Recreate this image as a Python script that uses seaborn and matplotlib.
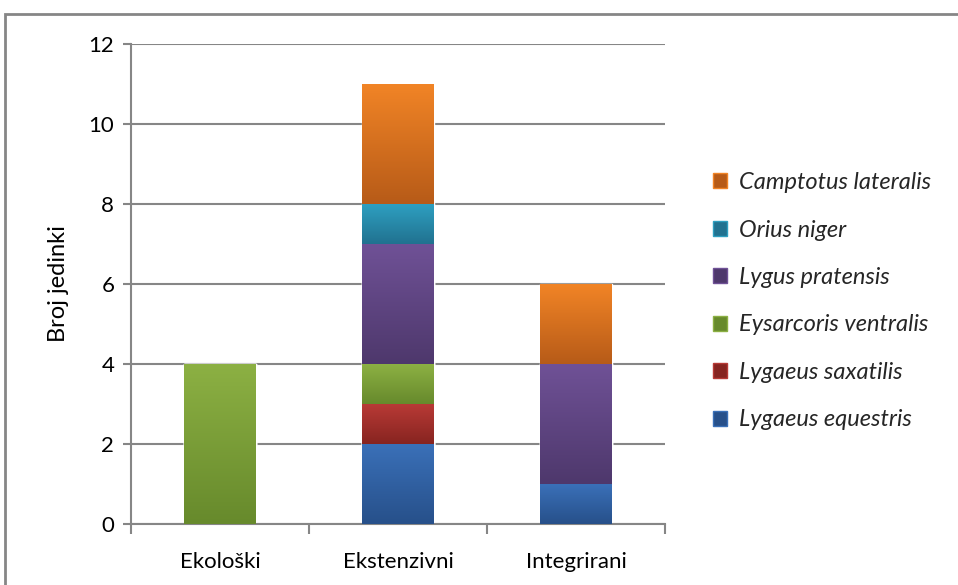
import matplotlib.pyplot as plt
import matplotlib.patches as mpatches
import numpy as np
import pandas as pd
import seaborn as sns
from matplotlib.colors import LinearSegmentedColormap

sns.set_theme(style="white")
plt.rcParams["font.family"] = ["Lato", "DejaVu Sans"]

categories = ["Ekološki", "Ekstenzivni", "Integrirani"]
species = [
    "Lygaeus equestris",
    "Lygaeus saxatilis",
    "Eysarcoris ventralis",
    "Lygus pratensis",
    "Orius niger",
    "Camptotus lateralis",
]
lygaeus_equestris = [0, 2, 1]
lygaeus_saxatilis = [0, 1, 0]
eysarcoris_ventralis = [4, 1, 0]
lygus_pratensis = [0, 3, 3]
orius_niger = [0, 1, 0]
camptotus_lateralis = [0, 3, 2]

# (top, bottom) colours of the Excel-style gradient
colors = {
    "Lygaeus equestris": ("#3a70b8", "#27508a"),
    "Lygaeus saxatilis": ("#b83a36", "#872420"),
    "Eysarcoris ventralis": ("#8cb043", "#678a2c"),
    "Lygus pratensis": ("#6f5196", "#4e386c"),
    "Orius niger": ("#2e9fc0", "#217290"),
    "Camptotus lateralis": ("#f18426", "#b75b18"),
}

values = np.array([
    lygaeus_equestris,
    lygaeus_saxatilis,
    eysarcoris_ventralis,
    lygus_pratensis,
    orius_niger,
    camptotus_lateralis,
], dtype=float)
cum = values.cumsum(axis=0)
df = pd.DataFrame(cum.T, columns=species)
df["category"] = categories

fig = plt.figure(figsize=(9.58, 5.85), dpi=100)
ax = fig.add_axes([0.1367, 0.1043, 0.5574, 0.8205])

bar_w = 0.4
# draw the stacks from the tallest cumulative layer down
for name in reversed(species):
    sns.barplot(data=df, x="category", y=name, color=colors[name][0],
                width=bar_w, ax=ax, saturation=1, zorder=2)

# gradient fill for every segment
for i, name in enumerate(species):
    cmap = LinearSegmentedColormap.from_list(name, [colors[name][1], colors[name][0]])
    grad = np.linspace(0, 1, 100).reshape(-1, 1)
    for j in range(len(categories)):
        lower = cum[i - 1, j] if i > 0 else 0
        upper = cum[i, j]
        if upper - lower <= 0:
            continue
        ax.imshow(grad, cmap=cmap, origin="lower", aspect="auto",
                  extent=(j - bar_w / 2, j + bar_w / 2, lower, upper), zorder=3)

ax.set_xlim(-0.5, 2.5)
ax.set_ylim(0, 12)
ax.set_yticks(range(0, 13, 2))
ax.set_xticks(range(3))
ax.set_xticklabels(categories)
ax.set_xticks([-0.5, 0.5, 1.5, 2.5], minor=True)

grid_c = "#868686"
ax.yaxis.grid(True, color=grid_c, linewidth=1.5, zorder=1)
ax.set_axisbelow(True)
for s in ["top", "right"]:
    ax.spines[s].set_visible(False)
for s in ["left", "bottom"]:
    ax.spines[s].set_color(grid_c)
    ax.spines[s].set_linewidth(1.5)

ax.tick_params(axis="y", which="major", left=True, length=6, width=1.5,
               color=grid_c, labelsize=16, pad=6, labelcolor="#000000")
ax.tick_params(axis="x", which="major", bottom=False, labelsize=16, pad=14,
               labelcolor="#000000")
ax.tick_params(axis="x", which="minor", bottom=True, length=7, width=1.5,
               color=grid_c)

ax.set_xlabel("")
ax.set_ylabel("Broj jedinki", fontsize=17, color="#000000", labelpad=14)

handles = [mpatches.Patch(facecolor=colors[n][1], edgecolor=colors[n][0])
           for n in reversed(species)]
fig.legend(handles, list(reversed(species)), loc="center left",
           bbox_to_anchor=(0.722, 0.485), frameon=False,
           prop={"style": "italic", "size": 17},
           handlelength=0.6, handleheight=0.6, handletextpad=0.5,
           labelspacing=1.12)

border = mpatches.Rectangle((0.005, -0.1), 1.2, 1.076, transform=fig.transFigure,
                            fill=False, edgecolor=grid_c, linewidth=2.0)
fig.patches.append(border)

fig.savefig("out.png", dpi=100, facecolor="white")
